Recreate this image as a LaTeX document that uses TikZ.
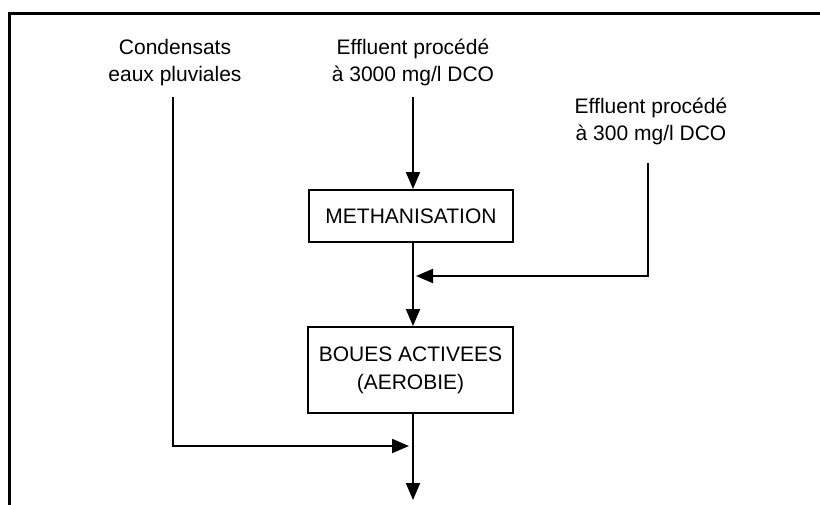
\documentclass[tikz,border=0pt]{standalone}
\usepackage{fontspec}
\setmainfont{Liberation Sans}
\usetikzlibrary{arrows.meta}
\begin{document}
\begin{tikzpicture}[x=1pt,y=-1pt,
  lbl/.style={align=center,font=\fontsize{21}{27}\selectfont,inner sep=0pt},
  procbox/.style={draw,line width=2pt,align=center,font=\fontsize{21}{28}\selectfont},
  flow/.style={line width=2pt},
  arr/.style={flow,-{Triangle[length=17pt,width=14pt]}}]
\useasboundingbox (0,0) rectangle (820,504);
\fill[white] (0,0) rectangle (820,504);
% open frame (top and left sides)
\draw[line width=3pt] (9,505) -- (9,13) -- (821,13);

% labels of the incoming streams
\node[lbl] (cond) at (175,63) {Condensats\\eaux pluviales};
\node[lbl] (e1) at (413,62) {Effluent procédé\\à 3000 mg/l DCO};
\node[lbl] (e2) at (651,121) {Effluent procédé\\à 300 mg/l DCO};

% treatment steps
\node[procbox,minimum width=204pt,minimum height=52pt] (meth) at (411,216) {METHANISATION};
\node[procbox,minimum width=205pt,minimum height=86pt] (boues) at (410.5,370) {BOUES ACTIVEES\\(AEROBIE)};

% connector end points
\coordinate (e1s) at (413,97);
\coordinate (e2s) at (648,163);
\coordinate (c1s) at (173,97);
\coordinate (j1) at (413,276);
\coordinate (j2) at (413,446);
\coordinate (out) at (413,500);

% flows
\draw[arr] (e1s) -- (e1s |- meth.north);
\draw[flow] (meth.south -| j1) -- (j1);
\draw[arr] (j1) -- (j1 |- boues.north);
\draw[arr] (e2s) |- ([xshift=3pt]j1);
\draw[flow] (boues.south -| j2) -- (j2);
\draw[arr] (j2) -- (out);
\draw[arr] (c1s) |- ([xshift=-4pt]j2);
\end{tikzpicture}
\end{document}
